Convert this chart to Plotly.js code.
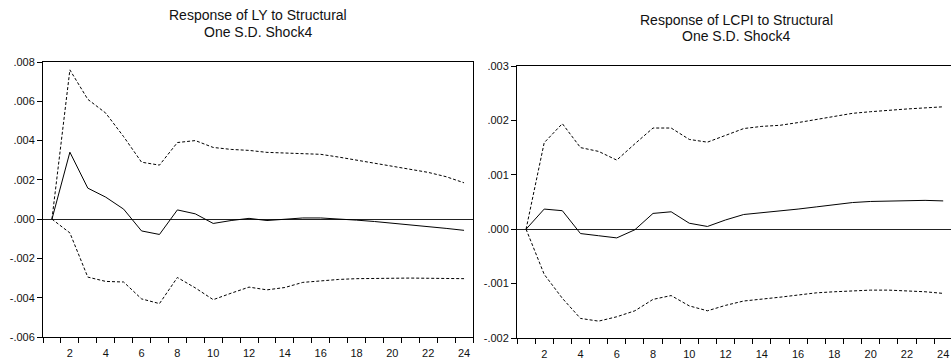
<!DOCTYPE html>
<html>
<head>
<meta charset="utf-8">
<script src="https://cdn.plot.ly/plotly-3.0.1.min.js"></script>
<style>
  html, body { margin: 0; padding: 0; background: #fff; }
  #chart { width: 951px; height: 362px; }
</style>
</head>
<body>
<div id="chart"></div>
<script>
// Forecast horizon (periods after the shock)
const periods = [1, 2, 3, 4, 5, 6, 7, 8, 9, 10, 11, 12, 13, 14, 15, 16, 17, 18, 19, 20, 21, 22, 23, 24];

// Response of LY to structural one S.D. shock 4, with +/- 2 S.E. bands
const lyResponse = [0, 0.00341, 0.00158, 0.00112, 0.00051, -0.00060, -0.00078, 0.00047, 0.00027, -0.00022,
  -0.00007, 0.00004, -0.00007, 0.00000, 0.00006, 0.00006, 0.00002, -0.00005, -0.00012, -0.00020,
  -0.00028, -0.00037, -0.00047, -0.00057];
const lyUpper = [0, 0.00760, 0.00610, 0.00540, 0.00420, 0.00290, 0.00275, 0.00390, 0.00400, 0.00365,
  0.00355, 0.00350, 0.00340, 0.00337, 0.00336, 0.00330, 0.00316, 0.00300, 0.00286, 0.00271,
  0.00255, 0.00238, 0.00216, 0.00185];
const lyLower = [0, -0.00070, -0.00295, -0.00317, -0.00320, -0.00406, -0.00430, -0.00297, -0.00350, -0.00410,
  -0.00377, -0.00346, -0.00360, -0.00348, -0.00322, -0.00314, -0.00307, -0.00303, -0.00301, -0.00300,
  -0.00300, -0.00301, -0.00302, -0.00303];

// Response of LCPI to structural one S.D. shock 4, with +/- 2 S.E. bands
const cpiResponse = [0, 0.00037, 0.00034, -0.00008, -0.00012, -0.00016, -0.00001, 0.00029, 0.00032, 0.00011,
  0.00005, 0.00017, 0.00027, 0.00030, 0.00033, 0.00037, 0.00041, 0.00045, 0.00049, 0.00051,
  0.00052, 0.00053, 0.00053, 0.00052];
const cpiUpper = [0, 0.00159, 0.00194, 0.00150, 0.00143, 0.00127, 0.00157, 0.00186, 0.00186, 0.00165,
  0.00160, 0.00173, 0.00185, 0.00189, 0.00191, 0.00196, 0.00202, 0.00208, 0.00213, 0.00216,
  0.00219, 0.00221, 0.00223, 0.00225];
const cpiLower = [0, -0.00083, -0.00127, -0.00164, -0.00169, -0.00161, -0.00150, -0.00129, -0.00122, -0.00141,
  -0.00150, -0.00140, -0.00132, -0.00129, -0.00125, -0.00121, -0.00117, -0.00115, -0.00113, -0.00112,
  -0.00112, -0.00113, -0.00115, -0.00118];

// Axis labels
const xTickVals = [2, 4, 6, 8, 10, 12, 14, 16, 18, 20, 22, 24];
const xTickText = ['2', '4', '6', '8', '10', '12', '14', '16', '18', '20', '22', '24'];
const lyTickVals = [-0.006, -0.004, -0.002, 0, 0.002, 0.004, 0.006, 0.008];
const lyTickText = ['-.006', '-.004', '-.002', '.000', '.002', '.004', '.006', '.008'];
const cpiTickVals = [-0.002, -0.001, 0, 0.001, 0.002, 0.003];
const cpiTickText = ['-.002', '-.001', '.000', '.001', '.002', '.003'];

// Panel titles, one entry per line
const titleLY = ['Response of LY to Structural', 'One S.D. Shock4'];
const titleCPI = ['Response of LCPI to Structural', 'One S.D. Shock4'];

// Separator ticks sit between periods, EViews style
const betweenTicks = [];
for (let i = 0; i <= periods.length; i++) betweenTicks.push(i + 0.5);

const FONT = 'Arial, "Liberation Sans", sans-serif';
const W = 951, H = 362;

function solid(x, y, xa, ya) {
  return { x: x, y: y, xaxis: xa, yaxis: ya, type: 'scatter', mode: 'lines',
    line: { color: '#000', width: 1 }, hoverinfo: 'skip', showlegend: false };
}
function dashed(x, y, xa, ya) {
  return { x: x, y: y, xaxis: xa, yaxis: ya, type: 'scatter', mode: 'lines',
    line: { color: '#000', width: 1, dash: '3px,2px' }, hoverinfo: 'skip', showlegend: false };
}

const traces = [
  dashed(periods, lyUpper, 'x', 'y'),
  dashed(periods, lyLower, 'x', 'y'),
  solid(periods, lyResponse, 'x', 'y'),
  dashed(periods, cpiUpper, 'x2', 'y2'),
  dashed(periods, cpiLower, 'x2', 'y2'),
  solid(periods, cpiResponse, 'x2', 'y2')
];

function xAxis(domain, range, anchor, mirror) {
  return {
    domain: domain, range: range, anchor: anchor,
    showgrid: false, zeroline: false,
    showline: true, linecolor: '#000', linewidth: 1, mirror: mirror,
    tickmode: 'array', tickvals: xTickVals, ticktext: xTickText,
    ticks: 'outside', ticklen: 6, tickcolor: 'rgba(0,0,0,0)',
    tickfont: { family: FONT, size: 11, color: '#111' },
    minor: { tickmode: 'array', tickvals: betweenTicks, ticks: 'outside',
      ticklen: 5, tickwidth: 1, tickcolor: '#000', showgrid: false }
  };
}
function yAxis(domain, range, anchor, vals, text, mirror) {
  return {
    domain: domain, range: range, anchor: anchor,
    showgrid: false,
    zeroline: true, zerolinecolor: '#222', zerolinewidth: 1,
    showline: true, linecolor: '#000', linewidth: 1, mirror: mirror,
    tickmode: 'array', tickvals: vals, ticktext: text,
    ticks: 'outside', ticklen: 5, tickwidth: 1, tickcolor: '#000',
    tickfont: { family: FONT, size: 11, color: '#111' }
  };
}

function titleLine(text, xPx, yPx) {
  return { text: text, xref: 'paper', yref: 'paper', x: xPx / W, y: 1 - yPx / H,
    xanchor: 'center', yanchor: 'middle', showarrow: false,
    font: { family: FONT, size: 14, color: '#111' } };
}

const layout = {
  width: W, height: H,
  margin: { l: 0, r: 0, t: 0, b: 0, pad: 0 },
  paper_bgcolor: '#fff', plot_bgcolor: '#fff',
  showlegend: false,
  xaxis: xAxis([43 / W, 473 / W], [0.5, 24.5], 'y', true),
  yaxis: yAxis([25 / H, 300 / H], [-0.006, 0.008], 'x', lyTickVals, lyTickText, true),
  xaxis2: xAxis([517 / W, 1], [0.5, 24.43], 'y2', true),
  yaxis2: yAxis([24 / H, 296 / H], [-0.002, 0.003], 'x2', cpiTickVals, cpiTickText, false),
  annotations: [
    titleLine(titleLY[0], 258, 15),
    titleLine(titleLY[1], 258, 31.5),
    titleLine(titleCPI[0], 736, 19.5),
    titleLine(titleCPI[1], 736, 36)
  ]
};

Plotly.newPlot('chart', traces, layout, { staticPlot: true, displayModeBar: false });
</script>
</body>
</html>
